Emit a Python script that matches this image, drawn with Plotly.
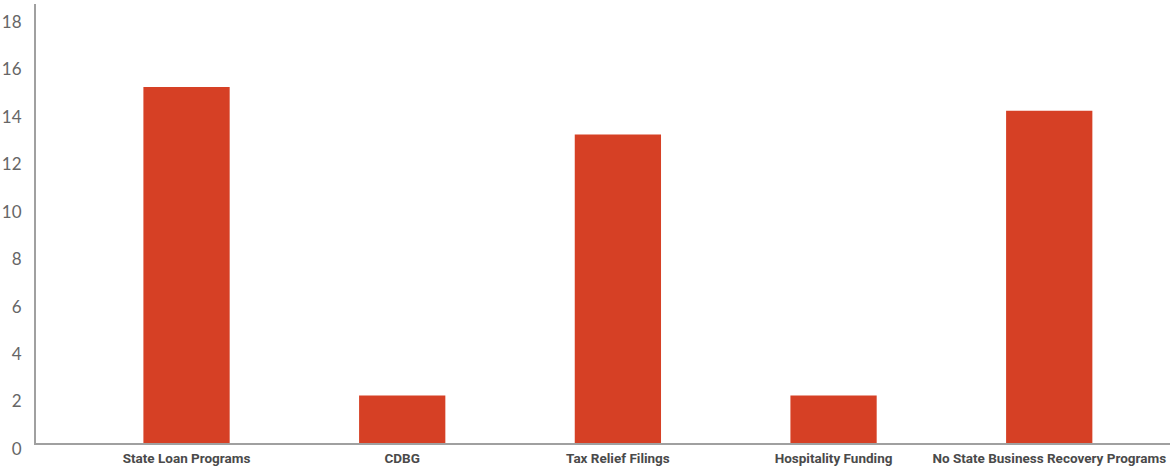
import plotly.graph_objects as go

categories = ["State Loan Programs", "CDBG", "Tax Relief Filings", "Hospitality Funding",
              "No State Business Recovery Programs"]
values = [15, 2, 13, 2, 14]
y_ticks = [0, 2, 4, 6, 8, 10, 12, 14, 16, 18]

fig = go.Figure(go.Bar(
    x=list(range(len(categories))), y=values,
    width=0.4, marker=dict(color="#d64025", line=dict(width=0)),
    hoverinfo="skip",
))

fig.update_layout(
    width=1170, height=467,
    margin=dict(l=36, r=0, t=4, b=24),
    paper_bgcolor="white", plot_bgcolor="white",
    showlegend=False,
    xaxis=dict(
        range=[-0.698, 4.56],
        tickmode="array", tickvals=list(range(len(categories))), ticktext=categories,
        showgrid=False, zeroline=False,
        showline=True, linecolor="#a0a0a0", linewidth=2,
        ticks="", ticklabelstandoff=2, ticklabeloverflow="allow",
        tickfont=dict(family="Roboto", size=13.5, color="#4a4a4a", weight="bold"),
    ),
    yaxis=dict(
        range=[0, 18.5],
        tickmode="array", tickvals=y_ticks,
        showgrid=False, zeroline=False,
        showline=True, linecolor="#a0a0a0", linewidth=2,
        ticks="", ticklabelstandoff=9, ticklabelshift=6,
        tickfont=dict(family="Lato", size=17, color="#666666"),
    ),
)

fig.write_html("out.html")
